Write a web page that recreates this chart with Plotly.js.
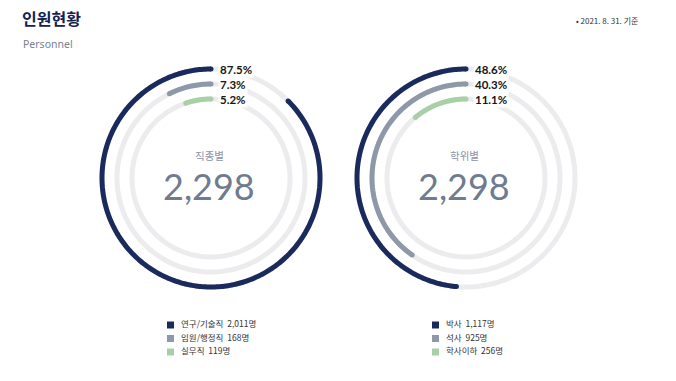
<!DOCTYPE html>
<html><head><meta charset="utf-8">
<script src="https://cdn.plot.ly/plotly-3.0.1.min.js"></script>
<style>html,body{margin:0;padding:0;background:#fff}#c{width:676px;height:381px}</style>
</head><body><div id="c"></div>
<script>
// ---- data ----
const jobLabels = ['연구/기술직', '임원/행정직', '실무직'];
const jobCounts = [2011, 168, 119];
const jobPct = [87.5, 7.3, 5.2];
const degLabels = ['박사', '석사', '학사이하'];
const degCounts = [1117, 925, 256];
const degPct = [48.6, 40.3, 11.1];
const chartTitles = ['직종별', '학위별'];
const mainTitle = '인원현황';
const subTitle = 'Personnel';
const dateNote = '• 2021. 8. 31. 기준';

// ---- layout constants ----
const W = 676, H = 381, R = 120;
const ringR = [109, 94, 79];
const ringColors = ['#1b2a5c', '#8e98a8', '#a9cfa7'];
const trackColor = '#ececef';
const lineW = 5;
const charts = [
  {cx: 211, cy: 178, labels: jobLabels, counts: jobCounts, pct: jobPct, title: chartTitles[0], lx: 170.5},
  {cx: 466, cy: 178, labels: degLabels, counts: degCounts, pct: degPct, title: chartTitles[1], lx: 435.5}
];
const legendRows = [325, 338.5, 352];
const KR = "'Noto Sans CJK KR', 'Noto Sans', sans-serif";

const traces = [];
const annotations = [];
const layout = {
  width: W, height: H, margin: {l: 0, r: 0, t: 0, b: 0},
  paper_bgcolor: '#fff', plot_bgcolor: 'rgba(0,0,0,0)', showlegend: false,
  xaxis: {range: [0, W], visible: false, fixedrange: true},
  yaxis: {range: [H, 0], visible: false, fixedrange: true},
  annotations: annotations
};

charts.forEach((c, k) => {
  const sub = k === 0 ? 'polar' : 'polar2';
  layout[sub] = {
    domain: {x: [(c.cx - R) / W, (c.cx + R) / W], y: [(H - c.cy - R) / H, (H - c.cy + R) / H]},
    bgcolor: 'rgba(0,0,0,0)',
    radialaxis: {range: [0, R], visible: false},
    angularaxis: {rotation: 90, direction: 'counterclockwise', visible: false}
  };
  ringR.forEach((r, i) => {
    // track
    const tt = [];
    for (let t = 0; t <= 360; t += 2) tt.push(t);
    traces.push({type: 'scatterpolar', subplot: sub, mode: 'lines', theta: tt, r: tt.map(() => r),
      line: {color: trackColor, width: lineW}, hoverinfo: 'skip'});
    // arc
    const end = c.pct[i] * 3.6;
    const th = [];
    for (let t = 0; t < end; t += 1) th.push(t);
    th.push(end);
    traces.push({type: 'scatterpolar', subplot: sub, mode: 'lines', theta: th, r: th.map(() => r),
      line: {color: ringColors[i], width: lineW}, hoverinfo: 'skip'});
    traces.push({type: 'scatterpolar', subplot: sub, mode: 'markers', theta: [0, end], r: [r, r],
      marker: {color: ringColors[i], size: lineW, line: {width: 0}}, hoverinfo: 'skip'});
    // percent label
    annotations.push({xref: 'x', yref: 'y', x: c.cx + 7, y: c.cy - r, xanchor: 'left', yanchor: 'middle',
      text: c.pct[i].toFixed(1) + '%', showarrow: false, bgcolor: '#fff', borderpad: 1,
      font: {family: 'Lato, sans-serif', size: 11.5, color: '#161616', weight: 700}});
  });
  const total = c.counts.reduce((a, b) => a + b, 0);
  annotations.push({xref: 'x', yref: 'y', x: c.cx - 2, y: c.cy - 23, text: c.title, showarrow: false,
    xanchor: 'center', yanchor: 'middle', font: {family: KR, size: 10.5, color: '#8b95a5'}});
  annotations.push({xref: 'x', yref: 'y', x: c.cx - 2, y: c.cy + 8, text: total.toLocaleString('en-US'), showarrow: false,
    xanchor: 'center', yanchor: 'middle', font: {family: 'Lato, sans-serif', size: 36, color: '#6f7b8f'}});
  // legend swatches and texts
  traces.push({type: 'scatter', xaxis: 'x', yaxis: 'y', mode: 'markers',
    x: c.labels.map(() => c.lx), y: legendRows,
    marker: {symbol: 'square', size: 7, color: ringColors, line: {width: 0}}, hoverinfo: 'skip'});
  traces.push({type: 'scatter', xaxis: 'x', yaxis: 'y', mode: 'text',
    x: c.labels.map(() => c.lx + 10.5), y: legendRows, textposition: 'middle right',
    text: c.labels.map((l, i) => l + '  ' + c.counts[i].toLocaleString('en-US') + '명'),
    textfont: {family: KR, size: 8.5, color: '#333'}, hoverinfo: 'skip'});
});

annotations.push({xref: 'x', yref: 'y', x: 20, y: 18, xanchor: 'left', yanchor: 'middle', text: mainTitle,
  showarrow: false, font: {family: KR, size: 16, color: '#14224f', weight: 700}});
annotations.push({xref: 'x', yref: 'y', x: 21, y: 43.5, xanchor: 'left', yanchor: 'middle', text: subTitle,
  showarrow: false, font: {family: "'Noto Sans', sans-serif", size: 10.5, color: '#768196'}});
annotations.push({xref: 'x', yref: 'y', x: 574, y: 20.5, xanchor: 'left', yanchor: 'middle', text: dateNote,
  showarrow: false, font: {family: KR, size: 8, color: '#333'}});

Plotly.newPlot('c', traces, layout, {displayModeBar: false, staticPlot: true});
</script>
</body></html>
